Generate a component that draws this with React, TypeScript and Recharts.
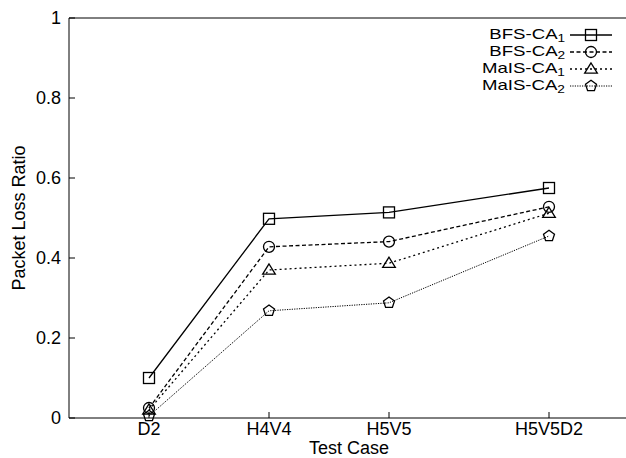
import React from 'react';
import { LineChart, Line, XAxis, YAxis, ReferenceLine, Legend } from 'recharts';

const categories = ['D2', 'H4V4', 'H5V5', 'H5V5D2'];
const xPositions = [2, 3.5, 5, 7];
const bfsCa1 = [0.1, 0.498, 0.514, 0.575];
const bfsCa2 = [0.025, 0.428, 0.441, 0.528];
const maisCa1 = [0.02, 0.37, 0.387, 0.512];
const maisCa2 = [0.005, 0.268, 0.288, 0.455];
const yTicks = [0, 0.2, 0.4, 0.6, 0.8, 1];
const seriesBase = ['BFS-CA', 'BFS-CA', 'MaIS-CA', 'MaIS-CA'];
const seriesSub = ['1', '2', '1', '2'];

const FONT = '"Liberation Sans", Arial, Helvetica, sans-serif';
const FS = 18;

const data = categories.map((c, i) => ({
  x: xPositions[i],
  bfs1: bfsCa1[i],
  bfs2: bfsCa2[i],
  mais1: maisCa1[i],
  mais2: maisCa2[i],
}));

type Shape = 'square' | 'circle' | 'triangle' | 'pentagon';

const series: { key: string; shape: Shape; dash?: string; width: number }[] = [
  { key: 'bfs1', shape: 'square', width: 1.3 },
  { key: 'bfs2', shape: 'circle', dash: '4 2.5', width: 1.3 },
  { key: 'mais1', shape: 'triangle', dash: '2 3', width: 1.3 },
  { key: 'mais2', shape: 'pentagon', dash: '1.2 1.2', width: 1 },
];

function Marker({ shape, cx, cy }: { shape: Shape; cx: number; cy: number }) {
  const r = 5.5;
  const common = { fill: 'none', stroke: '#000', strokeWidth: 1.3 };
  if (shape === 'square') {
    return <rect x={cx - r} y={cy - r} width={2 * r} height={2 * r} {...common} />;
  }
  if (shape === 'circle') {
    return <circle cx={cx} cy={cy} r={r} {...common} />;
  }
  if (shape === 'triangle') {
    const pts = [
      [cx, cy - r * 1.1],
      [cx - r * 1.15, cy + r * 0.75],
      [cx + r * 1.15, cy + r * 0.75],
    ]
      .map((p) => p.join(','))
      .join(' ');
    return <polygon points={pts} {...common} />;
  }
  const pts = [0, 1, 2, 3, 4]
    .map((k) => {
      const a = ((-90 + 72 * k) * Math.PI) / 180;
      return [cx + r * 1.05 * Math.cos(a), cy + r * 1.05 * Math.sin(a)].join(',');
    })
    .join(' ');
  return <polygon points={pts} {...common} />;
}

const makeDot = (shape: Shape) => (props: any) => {
  const { cx, cy, index } = props;
  return (
    <g key={`${shape}-${index}`}>
      <Marker shape={shape} cx={cx} cy={cy} />
    </g>
  );
};

function LegendBox() {
  const textRight = 565;
  const lfs = 15;
  return (
    <div style={{ position: 'relative', width: 630, height: 1, fontFamily: FONT, fontSize: lfs, color: '#000' }}>
      {series.map((s, i) => {
        const baseline = 38 + i * 17;
        return (
          <React.Fragment key={s.key}>
            <div
              style={{
                position: 'absolute',
                top: baseline - 12.5,
                right: 630 - textRight,
                lineHeight: '15px',
                whiteSpace: 'nowrap',
                transform: 'scaleX(1.24)',
                transformOrigin: 'right center',
              }}
            >
              {seriesBase[i]}
              <span style={{ fontSize: 11, position: 'relative', top: 3.5 }}>{seriesSub[i]}</span>
            </div>
            <svg
              style={{ position: 'absolute', left: 569, top: baseline - 12 }}
              width={44}
              height={20}
            >
              <line x1={1} x2={43} y1={9} y2={9} stroke="#000" strokeWidth={s.width} strokeDasharray={s.dash} />
              <Marker shape={s.shape} cx={22} cy={9} />
            </svg>
          </React.Fragment>
        );
      })}
    </div>
  );
}

export default function App() {
  return (
    <div
      style={{
        position: 'absolute',
        left: 0,
        top: 0,
        width: 626,
        height: 458,
        overflow: 'hidden',
        background: '#fff',
        fontFamily: FONT,
      }}
    >
      <LineChart
        width={630}
        height={458}
        data={data}
        margin={{ top: 18, right: 1, bottom: 0, left: 9 }}
        style={{ fontFamily: FONT }}
      >
        <XAxis
          dataKey="x"
          type="number"
          domain={[1, 8]}
          ticks={xPositions}
          interval={0}
          tickFormatter={(v: number) => categories[xPositions.indexOf(v)]}
          tick={{ fill: '#000', fontSize: FS }}
          axisLine={{ stroke: '#000', strokeWidth: 1 }}
          tickLine={{ stroke: '#000' }}
          tickSize={-6}
          tickMargin={10}
          height={40}
          label={{ value: 'Test Case', position: 'insideBottom', offset: 4, fill: '#000', fontSize: FS }}
        />
        <YAxis
          type="number"
          domain={[0, 1]}
          ticks={yTicks}
          interval={0}
          tickFormatter={(v: number) => String(v)}
          tick={{ fill: '#000', fontSize: FS }}
          axisLine={{ stroke: '#000', strokeWidth: 1 }}
          tickLine={{ stroke: '#000' }}
          tickSize={-6}
          tickMargin={14}
          width={60}
          label={{
            content: (props: any) => {
              const vb = props.viewBox || { x: 9, y: 18, width: 60, height: 400 };
              const cx = vb.x + 16;
              const cy = vb.y + vb.height / 2;
              return (
                <text
                  x={cx}
                  y={cy}
                  transform={`rotate(-90 ${cx} ${cy})`}
                  textAnchor="middle"
                  fontSize={FS}
                  fill="#000"
                  fontFamily={FONT}
                >
                  Packet Loss Ratio
                </text>
              );
            },
          }}
        />
        <ReferenceLine y={1} stroke="#000" strokeWidth={1} />
        <ReferenceLine x={8} stroke="#000" strokeWidth={1} />
        <Legend
          layout="horizontal"
          verticalAlign="middle"
          align="center"
          wrapperStyle={{ position: 'absolute', top: 0, left: 0, width: 630, height: 1 }}
          content={() => <LegendBox />}
        />
        {series.map((s) => (
          <Line
            key={s.key}
            dataKey={s.key}
            type="linear"
            stroke="#000"
            strokeWidth={s.width}
            strokeDasharray={s.dash}
            dot={makeDot(s.shape)}
            activeDot={false}
            isAnimationActive={false}
          />
        ))}
      </LineChart>
    </div>
  );
}
